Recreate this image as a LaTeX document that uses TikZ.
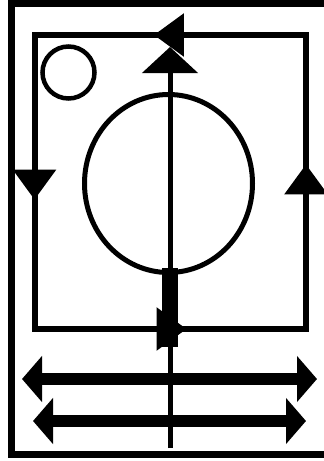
\documentclass[tikz,border=0pt]{standalone}
\usetikzlibrary{arrows.meta,decorations.markings,shapes.geometric}
\tikzset{frm/.style={line width=7pt},
 edg/.style={line width=6pt,line cap=rect,postaction={decorate},
  decoration={markings,mark=at position .56 with {\arrow{Triangle[length=30pt,width=42pt]}}}},
 ring/.style={draw,circle,line width=4.5pt,inner sep=0pt},
 ax/.style={line width=5pt,-{Triangle[length=26pt,width=55pt]}},
 dbl/.style={line width=12pt,{Triangle[length=20pt,width=45pt]}-{Triangle[length=20pt,width=45pt]}}}
\begin{document}
\begin{tikzpicture}[x=1pt,y=-1pt]
\useasboundingbox (0,0) rectangle (324,461);
% outer frame
\coordinate (ftr) at (324,3);\coordinate (fbl) at (11.5,454);\coordinate (fbr) at (324,454);
\draw[frm] (ftr) -| (fbl) -- (fbr);
% current loop
\coordinate (tl) at (34.5,35);\coordinate (tr) at (306,35);
\coordinate (br) at (306,329);\coordinate (bl) at (34.5,329);
\draw[edg] (tr)--(tl);\draw[edg] (tl)--(bl);\draw[edg] (bl)--(br);\draw[edg] (br)--(tr);
% rings
\node[ring,minimum size=52pt] (sm) at (68.5,72.5) {};
\node[draw,ellipse,line width=5pt,inner sep=0pt,minimum width=168pt,minimum height=178pt] (big) at (168.5,183.5) {};
% axis
\coordinate (bot) at (170,448);\coordinate (top) at (170,47);
\draw[ax] (bot)--(top);
\draw[line width=16pt] (170,268)--(170,347);
% double arrows
\coordinate (a1) at (22,379);\coordinate (b1) at (317,379);
\coordinate (a2) at (33,421);\coordinate (b2) at (306,421);
\draw[dbl] (a1)--(b1);\draw[dbl] (a2)--(b2);
\end{tikzpicture}
\end{document}
